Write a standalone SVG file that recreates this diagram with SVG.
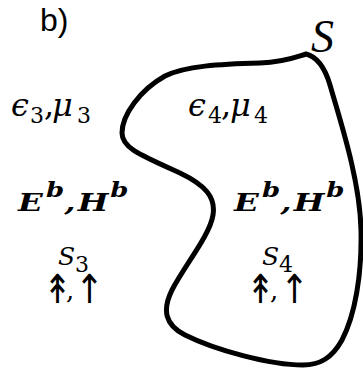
<svg xmlns="http://www.w3.org/2000/svg" width="363" height="369" viewBox="0 0 363 369">
<style>
.m{font-family:"DejaVu Serif","Liberation Serif",serif;font-style:italic;fill:#000}
.sub{font-family:"DejaVu Serif","Liberation Serif",serif;font-style:normal;fill:#000}
.bf{font-family:"DejaVu Serif","Liberation Serif",serif;font-style:italic;font-weight:bold;fill:#000}
.ar{font-family:"DejaVu Sans",sans-serif;fill:#000;font-size:40px;text-anchor:middle}
.cm{font-family:"DejaVu Serif","Liberation Serif",serif;fill:#000;font-size:26px}
</style>
<rect width="363" height="369" fill="#fff"/>
<g id="boundary">
<path d="M 306 54 C 296 57, 285 62, 260 63 C 220 64, 185 66, 165 76 C 140 90, 122 115, 122 133 C 122 148, 140 155, 180 173 C 205 185, 216 197, 213 215 C 210 235, 185 265, 172 290 C 162 310, 165 325, 185 335 C 215 350, 270 365, 303 365 C 320 365, 332 358, 342 340 C 355 315, 362 275, 361 230 C 360 180, 340 120, 330 85 C 325 68, 318 57, 306 54 Z" fill="none" stroke="#000" stroke-width="5" stroke-linejoin="round"/>
</g>
<g id="title">
<text x="40" y="31" font-family="Liberation Sans, Arial, sans-serif" font-size="32">b)</text>
<text x="311" y="52" font-family="Liberation Serif, serif" font-style="italic" font-size="46">S</text>
</g>
<g id="region3">
<text class="m" font-size="32"><tspan x="11" y="116">ϵ</tspan><tspan class="sub" x="30" y="123" font-size="22">3</tspan><tspan class="sub" x="44" y="116">,</tspan><tspan x="52" y="116">μ</tspan><tspan class="sub" x="77" y="123" font-size="22">3</tspan></text>
<text class="bf" font-size="25" transform="translate(18,211) scale(1.3,1)"><tspan x="0" y="0">E</tspan><tspan x="21.5" y="-14" font-size="20">b</tspan><tspan x="35.5" y="0">,</tspan><tspan x="46" y="0">H</tspan><tspan x="71" y="-14" font-size="20">b</tspan></text>
<text class="m" font-size="25"><tspan x="58" y="265">S</tspan><tspan class="sub" x="75" y="272" font-size="22">3</tspan></text>
<text class="ar" transform="translate(0,303) scale(0.85,1)"><tspan x="67.6" y="0">↟</tspan><tspan x="105.3" y="0">↑</tspan></text>
<text class="cm" x="66" y="299">,</text>
</g>
<g id="region4">
<text class="m" font-size="32"><tspan x="188" y="116">ϵ</tspan><tspan class="sub" x="208" y="123" font-size="22">4</tspan><tspan class="sub" x="221" y="116">,</tspan><tspan x="230" y="116">μ</tspan><tspan class="sub" x="254" y="123" font-size="22">4</tspan></text>
<text class="bf" font-size="25" transform="translate(234,211) scale(1.3,1)"><tspan x="0" y="0">E</tspan><tspan x="21.5" y="-14" font-size="20">b</tspan><tspan x="35.5" y="0">,</tspan><tspan x="46" y="0">H</tspan><tspan x="71" y="-14" font-size="20">b</tspan></text>
<text class="m" font-size="25"><tspan x="262" y="265">S</tspan><tspan class="sub" x="279" y="272" font-size="22">4</tspan></text>
<text class="ar" transform="translate(0,303) scale(0.85,1)"><tspan x="306.5" y="0">↟</tspan><tspan x="346.5" y="0">↑</tspan></text>
<text class="cm" x="270" y="299">,</text>
</g>
</svg>
